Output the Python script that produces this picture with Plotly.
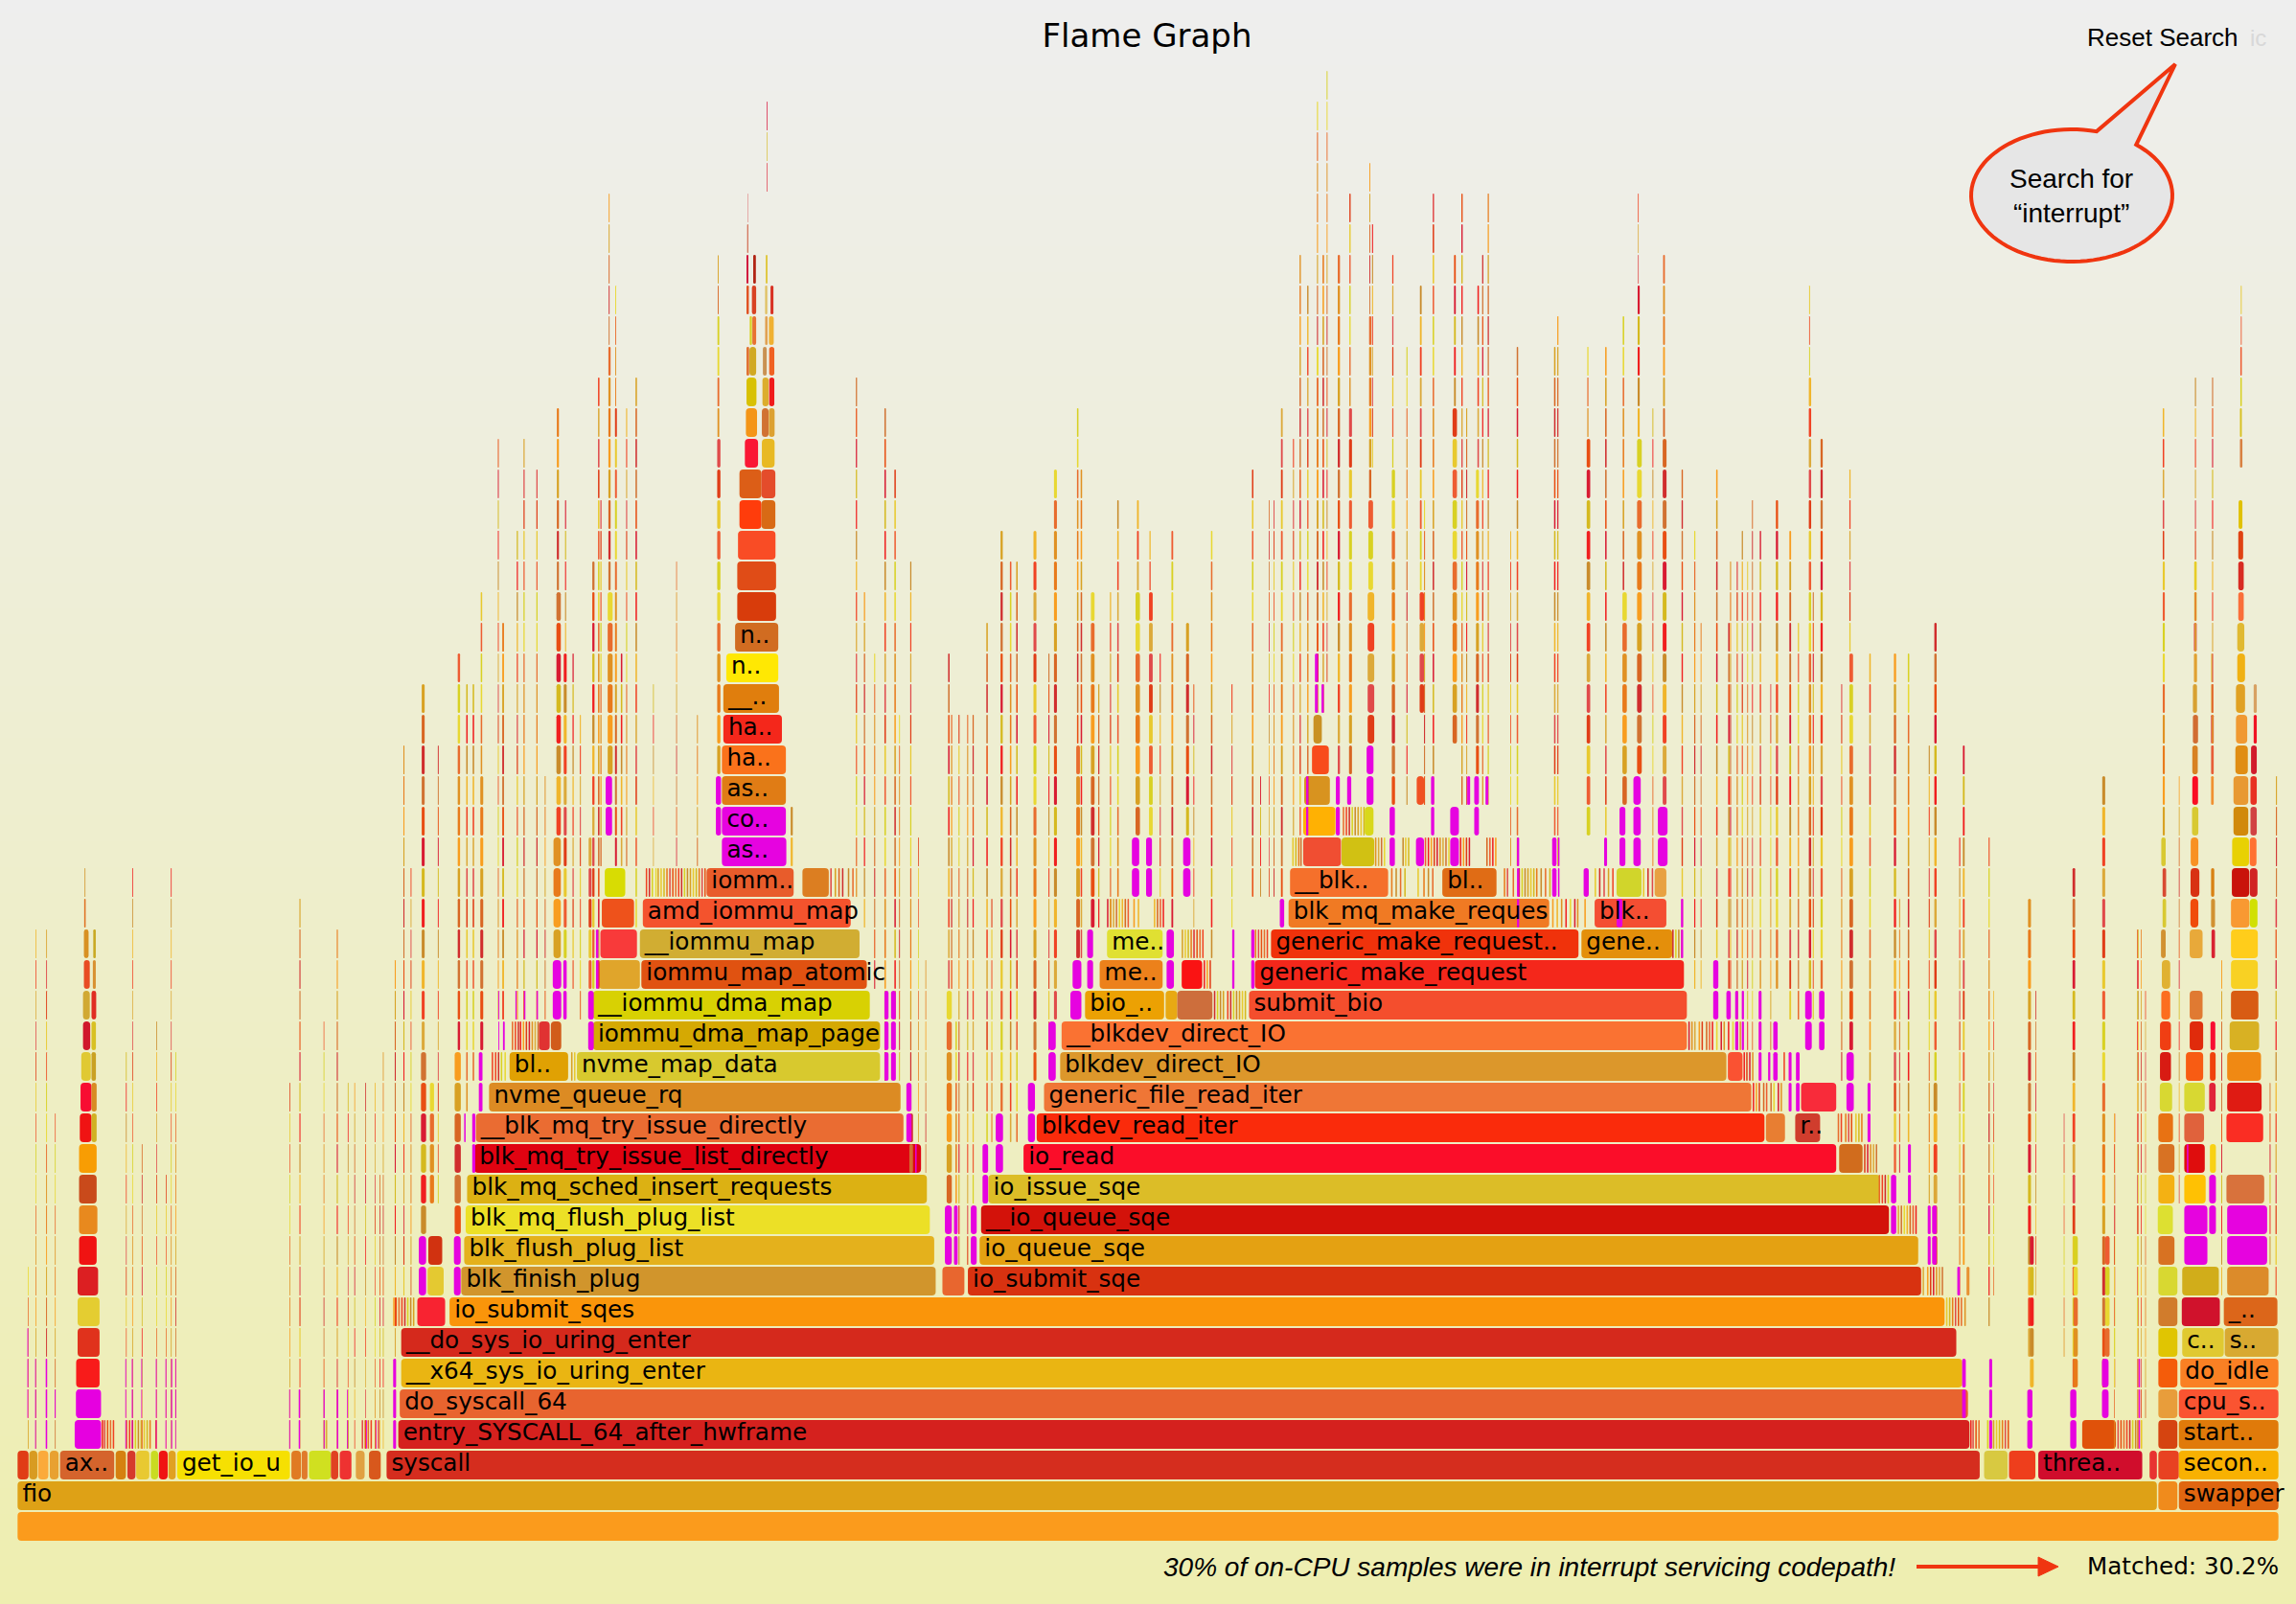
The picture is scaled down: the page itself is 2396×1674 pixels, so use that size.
import numpy as np
import plotly.graph_objects as go

# ---------------------------------------------------------------- page geometry
PAGE_W, PAGE_H = 2396, 1674
SAMPLE_SPAN = 1568            # x axis runs over this many sample units
ROW_PX = 32                   # height of one stack level
ROW0_PX = 1593                # vertical centre of the root frame


def page_x(px):
    return px * SAMPLE_SPAN / PAGE_W


def page_y(py):
    return (ROW0_PX - py) / ROW_PX


# ---------------------------------------------------------------- wide frames
frame_level = [
    0,
    1, 1, 1,
    2, 2, 2, 2, 2, 2, 2, 2, 2, 2, 2, 2, 2, 2, 2, 2, 2, 2, 2, 2, 2, 2, 2, 2, 2, 2,
    3, 3, 3, 3, 3,
    4, 4, 4, 4,
    5, 5, 5, 5,
    6, 6, 6, 6, 6,
    7, 7, 7, 7, 7, 7,
    8, 8, 8, 8, 8, 8, 8, 8, 8,
    9, 9, 9, 9, 9,
    10, 10, 10,
    11, 11, 11, 11,
    12, 12, 12, 12, 12,
    13, 13, 13, 13, 13, 13, 13,
    14, 14, 14, 14, 14, 14, 14,
    15, 15, 15, 15, 15, 15, 15, 15, 15, 15,
    16, 16, 16, 16, 16, 16, 16, 16, 16, 16,
    17, 17, 17, 17, 17, 17, 17, 17, 17, 17,
    18, 18, 18, 18, 18, 18, 18, 18, 18,
    19, 19, 19, 19, 19, 19, 19, 19, 19, 19, 19,
    20, 20, 20, 20, 20, 20, 20, 20, 20, 20, 20,
    21, 21, 21, 21, 21, 21, 21, 21, 21, 21, 21,
    22, 22, 22, 22, 22,
    23, 23, 23, 23, 23,
    24, 24, 24, 24, 24, 24,
    25, 25, 25, 25, 25,
    26, 26, 26, 26, 26,
    27, 27, 27, 27,
    28, 28, 28, 28,
    29, 29, 29,
    30, 30, 30,
    31, 31, 31,
    32, 32,
    33, 33, 33,
    34, 34,
    35, 35, 35,
    36, 36, 36, 36,
    37, 37, 37,
    38, 38, 38, 38,
    39, 39, 39, 39,
    40, 40, 40, 40,
    41, 41, 41,
    42, 43, 44, 45, 46,
    # idle-side stacks on the far right
    10,
    11, 11,
    12, 12,
    13, 13,
    14, 14,
    21, 21,
    22, 23, 24, 25, 26, 27,
]
frame_start = [
    12,
    12, 1474, 1488,
    12, 20, 26, 34, 41, 79, 87, 93, 103, 108.5, 115, 121, 199, 206, 211, 226, 232, 243, 252, 264, 1355, 1372, 1392, 1468, 1474, 1488,
    51, 272, 1422, 1474, 1488,
    52, 273, 1474, 1488,
    52, 274, 1474, 1489,
    53, 274, 1474, 1490.3, 1519.3,
    53, 285, 307, 1474, 1490, 1518.7,
    53, 292, 315, 643.6, 661, 1474, 1490.3, 1521, 1343,
    54, 292.5, 317, 669, 1474,
    54, 318, 670,
    54, 319, 675, 1474,
    54, 324, 699, 1256, 1474,
    54.5, 62.5, 325, 708, 1206, 1226, 1474,
    55, 62.5, 334, 713, 1230, 1475, 1491.7,
    55.5, 62.5, 348, 394, 724, 1180, 1475.1, 1492.8, 1509.2, 1521,
    56.7, 62.5, 368, 376.2, 405, 725, 1475.1, 1495.4, 1509.6, 1522.7,
    56.7, 62.5, 405, 741, 796, 804, 853, 1476, 1495.4, 1523.6,
    57.3, 63.4, 409, 438, 751, 807, 857, 1476.4, 1523.6,
    57.3, 63.7, 410, 437, 756, 868, 1080, 1475.8, 1495.4, 1510.3, 1523.6,
    57.5, 411, 439, 880, 1089, 1476.9, 1495.9, 1510, 1523.6, 1536.4, 1554,
    57.8, 413, 482.5, 548, 881, 985, 1104, 1130, 1476.9, 1496, 1510,
    890, 916.2, 1476, 1496.1, 1524.4,
    493, 890, 932, 1497, 1525.3,
    493, 890.7, 967.5, 1497.2, 1510, 1525.3,
    493, 896, 1497.2, 1510, 1526.6,
    494, 897, 1497.6, 1510, 1527,
    494, 1497.6, 1510, 1527,
    496, 1498.3, 1510, 1527.9,
    502, 1498.3, 1527.9,
    503.5, 1498.5, 1528.6,
    503.5, 1498.5, 1528.6,
    504, 1528.6,
    505, 520, 1528.8,
    505, 520,
    508.7, 520.3, 1529.7,
    509.4, 520.3, 525.1, 1529.7,
    509.8, 520.7, 525.3,
    509.8, 511.8, 521, 525.3,
    512, 513.8, 522.5, 525.1,
    509.8, 513.5, 522.5, 526.2,
    509.8, 514.4, 522.9,
    510.3, 510.5, 523.7, 523.7, 523.7,
    1473.6,
    1491.7, 1520.5,
    1491.7, 1509.2,
    1491.7, 1520.5,
    1508.7, 1521,
    1524.2, 1536.4,
    1536.4, 1536.9, 1536.9, 1537.3, 1539.1, 1539.1,
]
frame_end = [
    1556,
    1473, 1487, 1556,
    19.5, 25.5, 33, 40, 78, 86, 92.5, 102, 108, 114.5, 120, 198, 205.5, 210, 226, 231, 240, 249, 260, 1352, 1371, 1390, 1463, 1473, 1488, 1556,
    69, 1345, 1445, 1487, 1556,
    69, 1344, 1487, 1556,
    68, 1340, 1487, 1556,
    68, 1336, 1487, 1518.7, 1556,
    68, 304, 1328, 1487, 1516, 1555.3,
    67, 303, 639, 658.6, 1312, 1487, 1515.3, 1549.3, 1345,
    66, 302, 638, 1310, 1485,
    66.5, 635, 1290,
    66, 633, 1284, 1485,
    66, 629, 1254, 1272, 1485,
    62.5, 66, 617, 1205, 1219, 1243, 1484,
    62.5, 66, 615, 1196, 1254, 1483.4, 1505.7,
    62, 65.5, 388, 601, 1179, 1190, 1482.6, 1504.6, 1513.1, 1544.1,
    61.6, 65.5, 375.4, 383.3, 601, 1152, 1482.6, 1504.6, 1512.9, 1542.8,
    61.3, 65.7, 594, 795, 804, 828, 1152, 1482.1, 1504.2, 1542.3,
    61.3, 65.4, 437, 592, 794, 821, 1150, 1482.1, 1541.9,
    60.5, 65.4, 435, 587, 794, 1078, 1142, 1479, 1504.2, 1512.7, 1541.9,
    58.5, 433, 581, 1058, 1138, 1479.3, 1501.3, 1512.7, 1536.2, 1541.7, 1555,
    58.3, 427, 542, 566, 948, 1022, 1121, 1138, 1479.3, 1502, 1512.2,
    915.8, 938.5, 1479, 1501.3, 1535.9,
    536.7, 912, 938, 1501.3, 1535.4,
    536.7, 908.2, 972.5, 1501.1, 1511.8, 1535.4,
    536.7, 907.5, 1500.9, 1511.8, 1535.1,
    534, 902.7, 1501.1, 1511.8, 1534.7,
    532, 1500.4, 1511.5, 1533.2,
    531.5, 1500.4, 1511.2, 1533.2,
    531.5, 1500.2, 1532.7,
    530, 1500.2, 1532.3,
    530, 1500.2, 1532.3,
    529.6, 1531.9,
    520, 529.5, 1531.4,
    520, 529.5,
    517.7, 529, 1531.4,
    517, 524.9, 529, 1531,
    516.6, 524.9, 528.8,
    511.6, 516.4, 523.6, 528.8,
    513.5, 516.4, 524.2, 528.4,
    511.4, 516.4, 524, 528.2,
    511.1, 516.2, 524.2,
    510.9, 510.9, 524.2, 524.2, 524.2,
    1483.9,
    1506.3, 1546.3,
    1505.7, 1513.3,
    1505.2, 1545.6,
    1513.1, 1544.5,
    1536, 1541.7,
    1541, 1541.2, 1541.2, 1541.2, 1541.2, 1541.2,
]
frame_color = [
    "#fb9a1a",
    "#dea014", "#f08a1a", "#e0640e",
    "#e03a14", "#d89a20", "#fba93a", "#e8a030", "#d4622a", "#d4800e", "#d6382a", "#e8c830", "#c8dc20", "#f01010", "#e0a020", "#f6e000", "#e07820", "#e0782a", "#cfe01e", "#e04020", "#ee3030", "#e0a040", "#d8561a", "#d42a1c", "#d8c840", "#ee3c1a", "#cf0a2a", "#e83030", "#e84020", "#f8b000",
    "#e600e0", "#d41e1c", "#e05008", "#d4420e", "#e07808",
    "#e600e0", "#e8622e", "#e89c3a", "#fa5230",
    "#f81818", "#eab410", "#f45a08", "#fa7e22",
    "#e0301a", "#d4261a", "#e0c400", "#e0c830", "#d8a830",
    "#e4cc30", "#f82030", "#fa9408", "#d07a2a", "#cf0f2a", "#dc6418",
    "#dc1c20", "#e4c830", "#d0942a", "#e8642e", "#d8300e", "#d8d830", "#d0ac18", "#dc8a28", "#e89030",
    "#f01010", "#d0300e", "#e4b01a", "#e4a010", "#d87020",
    "#e8881c", "#ece024", "#d20f08",
    "#c84818", "#dcb010", "#dcbc24", "#f4b010",
    "#f89c00", "#e0000e", "#fb0a26", "#d06a1a", "#d87020",
    "#f01010", "#d0b020", "#ea6a30", "#fa2808", "#e87c30", "#cf3b2a", "#e87010",
    "#f80a30", "#d88a20", "#dc8a20", "#ef7434", "#f82838", "#d8d830", "#d8d830",
    "#e0c830", "#c8a020", "#e0a000", "#d8c82c", "#dc9628", "#fa5030", "#d81810", "#f85a10", "#f04008", "#f08810",
    "#cf1428", "#d8c020", "#e03030", "#d05a18", "#d4a800", "#fa7030", "#f03c10", "#e02808", "#f80a30", "#d8b020",
    "#d0a830", "#e02a20", "#d8d000", "#eca000", "#e8a810", "#cc6c3a", "#f44c2a", "#fc6c1c", "#e07830", "#d85a10",
    "#e84a20", "#d89030", "#e0a428", "#e0500e", "#ec8018", "#fa1010", "#f42418", "#e0b030", "#f8d020",
    "#d89020", "#c8a820", "#f83838", "#d0ac30", "#e0e030", "#f03008", "#e48e08", "#d09030", "#e8a838", "#d82030", "#ffcc18",
    "#e07020", "#ee5018", "#f4512a", "#f07820", "#f44c30", "#d8c830", "#f04a08", "#d09030", "#f89830", "#d0e000", "#e04048",
    "#d09020", "#d8dc00", "#e85a28", "#dc7c1e", "#f56e28", "#e06a12", "#d0d428", "#e8a040", "#d84830", "#d83010", "#d88010",
    "#f04c30", "#d0c010", "#d8c830", "#f89020", "#e8d000",
    "#e600e0", "#ffb000", "#d8d818", "#d8c830", "#d08808",
    "#e07a12", "#d8921c", "#f05020", "#fa0a20", "#f09030", "#e89830",
    "#fa7018", "#f84a18", "#d88020", "#e06040", "#e08c10",
    "#f42418", "#c89020", "#d06a30", "#d83030", "#f09830",
    "#e07c0a", "#d8a030", "#e0a040", "#e0a020",
    "#ffe800", "#e0a030", "#e0c040", "#f0b010",
    "#d06a1e", "#e04040", "#e0b830",
    "#d83a08", "#d8c030", "#fa6c38",
    "#e04a14", "#e8d020", "#d82820",
    "#f94a22", "#e04010",
    "#ff3a08", "#d86812", "#e0c000",
    "#dc5c14", "#e44a28",
    "#fa1432", "#e8b820", "#d88040",
    "#f49414", "#d07030", "#dca030", "#d8c020",
    "#d8c000", "#dcac2a", "#f01818",
    "#e07030", "#d0a820", "#c89050", "#f06020",
    "#d8d020", "#e87030", "#e0a050", "#f0b030",
    "#e05020", "#d84020", "#e0c060", "#d83020",
    "#d0103a", "#b02010", "#e0c840",
    "#c84020", "#e08080", "#e04050", "#d8c040", "#d81840",
    "#dde030",
    "#ffc000", "#d8703a",
    "#df0a0a", "#f8d010",
    "#e0603a", "#fa2a20",
    "#e02038", "#df1810",
    "#c81008", "#d02020",
    "#ff7030", "#d04040", "#e83020", "#d01828", "#f01020", "#d8a060",
]
frame_name = [
    "",
    "fio", "", "swapper",
    "", "", "", "", "ax..", "", "", "", "", "", "", "get_io_u", "", "", "", "", "", "", "", "syscall", "", "", "threa..", "", "", "secon..",
    "", "entry_SYSCALL_64_after_hwframe", "", "", "start..",
    "", "do_syscall_64", "", "cpu_s..",
    "", "__x64_sys_io_uring_enter", "", "do_idle",
    "", "__do_sys_io_uring_enter", "", "c..", "s..",
    "", "", "io_submit_sqes", "", "", "_..",
    "", "", "blk_finish_plug", "", "io_submit_sqe", "", "", "", "",
    "", "", "blk_flush_plug_list", "io_queue_sqe", "",
    "", "blk_mq_flush_plug_list", "__io_queue_sqe",
    "", "blk_mq_sched_insert_requests", "io_issue_sqe", "",
    "", "blk_mq_try_issue_list_directly", "io_read", "", "",
    "", "", "__blk_mq_try_issue_directly", "blkdev_read_iter", "", "r..", "",
    "", "", "nvme_queue_rq", "generic_file_read_iter", "", "", "",
    "", "", "bl..", "nvme_map_data", "blkdev_direct_IO", "", "", "", "", "",
    "", "", "", "", "iommu_dma_map_page", "__blkdev_direct_IO", "", "", "", "",
    "", "", "__iommu_dma_map", "bio_..", "", "", "submit_bio", "", "", "",
    "", "", "", "iommu_map_atomic", "me..", "", "generic_make_request", "", "",
    "", "", "", "__iommu_map", "me..", "generic_make_request..", "gene..", "", "", "", "",
    "", "", "amd_iommu_map", "blk_mq_make_reques", "blk..", "", "", "", "", "", "",
    "", "", "iomm..", "", "__blk..", "bl..", "", "", "", "", "",
    "", "", "", "", "",
    "co..", "", "", "", "",
    "as..", "", "", "", "", "",
    "ha..", "", "", "", "",
    "ha..", "", "", "", "",
    "__..", "", "", "",
    "n..", "", "", "",
    "n..", "", "",
    "", "", "",
    "", "", "",
    "", "",
    "", "", "",
    "", "",
    "", "", "",
    "", "", "", "",
    "", "", "",
    "", "", "", "",
    "", "", "", "",
    "", "", "", "",
    "", "", "",
    "", "", "", "", "",
    "",
    "", "",
    "", "",
    "", "",
    "", "",
    "", "",
    "", "", "", "", "", "",
]
# the "as.." frame on level 22 is magenta, kept with the other matched frames
matched_label_x = 493
matched_label_level = 22
matched_label = "as.."

# ---------------------------------------------------------------- narrow columns
# each entry: sample position, sample width, first level, last level
columns_far_left = [
    (19, .5, 3, 8), (24.3, .5, 3, 19), (31.5, .6, 3, 19), (37.5, .5, 3, 13),
    (86, .5, 3, 15), (90.3, .5, 3, 21), (96.8, .5, 3, 12), (106.7, .5, 3, 16),
    (113.3, .5, 3, 11), (116.7, .5, 3, 21), (119.8, .5, 3, 15),
    (197.8, .5, 3, 14), (204.5, .7, 3, 20), (221, .5, 3, 16), (230, .7, 3, 19),
    (237.5, .5, 3, 14), (242, .5, 3, 14), (249.5, .5, 3, 14), (256, .5, 3, 14),
    (259.3, .5, 3, 11), (261.5, .5, 3, 15), (269.6, .7, 3, 18),
]
columns_left_stack = [
    (275.5, .7, 8, 25), (280.4, .6, 8, 21), (287.5, 3.5, 10, 15), (288, 2, 16, 27),
    (293.6, 2.8, 11, 14), (299, .6, 11, 25), (310.5, 4.2, 10, 15), (312.6, 1.6, 16, 28),
    (318.4, 1, 14, 27), (322.8, 1, 15, 27), (328, 2, 16, 24), (328.3, 1, 25, 30),
    (340, .6, 17, 35), (343, 1.2, 17, 29), (352.9, .8, 17, 32), (357.5, .8, 17, 35),
    (366.3, .8, 17, 34), (372, .6, 17, 24), (378, 5, 19, 22), (380, 3, 23, 30),
    (380.3, 1.4, 31, 36), (385, 2, 19, 28), (385.9, .7, 29, 33), (391, .8, 18, 28),
    (396, .7, 17, 26), (402, 2, 18, 22), (404.5, 1.5, 18, 31), (408.4, 1, 18, 37),
    (410, .8, 22, 33), (415, 3.4, 25, 30), (415.5, 1.5, 31, 38), (415.7, .6, 39, 43),
    (420, 1.3, 22, 36), (420.2, .6, 37, 40), (424, 1, 22, 28), (427.6, .7, 22, 36),
    (434, 1, 20, 37), (446, .5, 22, 27), (461.8, .5, 22, 31), (476, .6, 22, 26),
    (489.8, 2.2, 25, 35), (490, 1.2, 36, 39), (490.2, .6, 40, 41),
    (540, 1.4, 22, 23), (584.5, .8, 21, 37), (590, .8, 20, 30), (597, .7, 18, 28),
    (604, 1, 15, 36), (610.8, 1, 17, 34), (614, .6, 15, 26), (621.6, .8, 15, 31),
    (621, 2.5, 12, 13), (627, .5, 13, 22), (632, .5, 12, 18),
]
columns_middle = [
    (646.5, 3.5, 11, 17), (647.5, 1, 18, 28), (649.5, .8, 18, 26), (652.5, 1, 11, 16),
    (654.6, .7, 9, 26), (660.5, .7, 9, 26), (664.2, .8, 10, 26), (673.6, 1, 13, 29),
    (677, .7, 13, 20), (683.3, 1.5, 14, 32), (689.7, 1, 13, 31), (694, 1, 13, 31),
    (705.8, 2, 15, 32), (716, .7, 16, 28), (719.8, 2, 17, 34), (735, 2.5, 19, 25),
    (735.5, 1, 26, 36), (738, 1, 19, 34), (745, 2.5, 20, 30), (750, .8, 20, 27),
    (758, .8, 20, 30), (763, 1, 21, 33), (775.5, 3, 23, 30), (776.5, 1.2, 31, 33),
    (784.7, 2.5, 23, 30), (785, .8, 31, 32), (792, .7, 21, 28), (800, 1.2, 20, 32),
    (810, 2, 23, 29), (815, .6, 19, 27), (827, 1, 19, 32), (841, .7, 20, 27),
    (855, 1, 21, 34), (860.6, .6, 21, 24), (866.5, .5, 21, 33), (869.8, .6, 21, 33),
    (874.8, 1.2, 21, 36), (883, .7, 23, 35),
]
columns_right_stack = [
    (887.5, .9, 23, 41), (892.7, .9, 24, 40), (899.2, 1.2, 27, 38), (899.4, .7, 39, 46),
    (903.2, 1, 27, 41), (906, .6, 28, 47), (913.6, 1.5, 25, 41), (921.3, 2, 25, 36),
    (921.5, .9, 37, 43), (934, 4.5, 26, 30), (934.5, 3.2, 31, 33), (935, 1.5, 34, 39),
    (935.2, .6, 40, 44), (937, .7, 35, 42), (950.5, 2.2, 24, 34), (950.8, .8, 35, 41),
    (960.5, .7, 24, 38), (969.5, 3, 27, 30), (969.7, 1.2, 31, 40), (972.5, .7, 24, 33),
    (978.4, 1, 24, 43), (992, 3, 26, 36), (993, 1.2, 37, 41), (998, .9, 24, 43),
    (1001.3, .7, 24, 36), (1008, 2, 25, 34), (1009, 1, 35, 40), (1012.2, .8, 24, 41),
    (1016, .8, 24, 43), (1031.4, .6, 22, 32), (1035.8, 1, 22, 38),
    (1061.3, 1, 22, 38), (1063.5, .8, 22, 39), (1083.6, 2.4, 23, 35), (1084, .8, 36, 38),
    (1096.2, 1, 23, 38), (1108, 3, 24, 30), (1108.2, 1, 31, 39), (1118, 3.2, 25, 35),
    (1118.4, 1.4, 36, 40), (1118.6, .5, 41, 43), (1128.5, .6, 22, 36), (1135.5, 2.6, 24, 35),
    (1135.8, 1.2, 36, 41),
]
columns_right_tail = [
    (1148.4, .9, 20, 34), (1157, .8, 18, 32), (1161.4, .6, 18, 29), (1172, 1, 19, 34),
    (1180.2, 1, 18, 29), (1181.5, .7, 18, 31), (1186, .8, 17, 31), (1189.5, .8, 18, 32),
    (1193.2, .6, 16, 31), (1196.5, .6, 16, 33), (1201.8, .9, 16, 32), (1209, .6, 16, 27),
    (1212.8, 1.5, 18, 33), (1222, 1.2, 17, 32), (1227.8, .8, 17, 29), (1235.3, 1.6, 18, 37),
    (1235.5, .6, 38, 40), (1238, .7, 17, 30), (1243.3, 1.5, 18, 35), (1257.4, .7, 15, 27),
    (1263, 2.5, 16, 28), (1263, .8, 29, 34), (1276.6, 1, 15, 28), (1293.4, 1.5, 12, 28),
    (1297, .6, 12, 20), (1302.9, 1, 13, 28), (1317.2, .7, 11, 25), (1321, 1.6, 11, 29),
    (1320.5, 2.5, 9, 14), (1338, .7, 8, 22), (1340.5, 1.2, 9, 25), (1358, .8, 7, 22),
    (1361.3, .5, 8, 17), (1385, 2, 6, 20), (1390, .5, 8, 17), (1409.4, .5, 6, 13),
    (1415.4, 1.8, 5, 21), (1435.7, 2, 5, 24), (1444, .5, 5, 13), (1460, .5, 4, 19),
    (1465, .5, 4, 17), (1477, 1.4, 23, 31), (1477, 1, 32, 36), (1499, .7, 29, 37), (1510.7, .7, 25, 37),
    (1443.7, .5, 3, 13), (1459.4, .5, 3, 19), (1462, .5, 3, 19), (1488, .5, 11, 24),
    (1517, .6, 8, 18), (1554, .8, 8, 19), (1554.3, .7, 21, 24), (1550, .6, 9, 14),
    (1530, 1, 37, 38), (1530.3, .6, 39, 40),
]
columns_levels_low = [
    (1386.3, 2.6, 5, 9), (1416, 3, 5, 9), (1437.7, 3, 6, 9),
]
# short runs of one-level frames: level and the sample position of every frame
strip_levels = [
    3, 3, 3, 3, 3, 3,
    7, 7,
    8, 10, 11, 12, 13, 14,
    15, 15, 16, 16,
    17, 18,
    19, 19, 19,
    20, 20,
    21, 21, 21, 21, 21,
    22, 22, 22, 22, 22,
    23,
]
strip_starts = [
    [69.5, 71, 73, 75, 77], [86, 88, 90, 92, 94, 96, 98, 100, 102, 106], [221, 222.5, 230, 237, 247, 249, 251, 253, 256, 258],
    [1345.5, 1347, 1349, 1351, 1365, 1367, 1369, 1371], [1357, 1359, 1361, 1363], [1446, 1448, 1450, 1452, 1454, 1456, 1458, 1460, 1462],
    [268.5, 270, 272, 274, 276, 278, 280, 282], [1329, 1331, 1333, 1335, 1337, 1339, 1341.5],
    [1313, 1316, 1318, 1320, 1322, 1324, 1326], [1296, 1298, 1300, 1302, 1304, 1306, 1308], [1283, 1285, 1287, 1289], [1273, 1275, 1277, 1279, 1281],
    [1255, 1257, 1260, 1262, 1264, 1267, 1269, 1271], [1197, 1199, 1201, 1204, 1206, 1209, 1211, 1214, 1216],
    [335.8, 338, 340, 342, 344.5, 390, 392], [1190.7, 1192.5, 1194.5, 1196.5, 1218, 1222], [349.5, 351.5, 353.5, 355, 357, 359, 361, 363, 365, 367], [1153, 1155, 1157, 1160, 1162, 1165, 1167, 1169, 1172, 1175, 1177, 1180, 1183, 1186, 1188],
    [829, 831, 833, 835, 838, 840, 842, 844, 846, 848, 850], [822, 824, 826],
    [807, 809, 811, 813, 815, 817, 819, 821], [857, 859, 861, 863, 865], [1142, 1144, 1146, 1148],
    [756, 758, 760, 762, 764, 766, 768, 770, 774, 777, 788, 790, 792, 794], [1060, 1063, 1066, 1069, 1072, 1075, 1077, 1082],
    [441, 443, 445, 447.5, 449, 451, 453, 455, 457, 459, 461, 463, 465, 467, 469, 471, 473, 475, 477, 479, 481], [567, 570, 572.5, 575, 579, 582], [950, 953, 956, 959, 968, 972, 975, 978], [1027, 1029, 1033, 1037, 1039, 1041, 1043, 1045, 1047, 1049, 1052, 1055, 1058], [1083, 1089, 1092, 1095, 1098, 1101, 1122, 1125, 1128],
    [882.5, 884.5, 886.5, 888], [939, 941, 943, 945], [957.7, 959.5, 961.5], [973, 975, 977, 979, 981, 983, 985, 987, 989], [997, 999, 1001, 1003, 1015, 1017, 1019, 1021],
    [917, 919, 921, 923, 925, 927, 929, 931],
]
STRIP_WIDTH = 1.0

# matched (interrupt) frames: first sample, last sample, first level, last level
matched_left = [
    (52, 68.7, 3, 4), (18.7, 19.3, 4, 6), (24, 24.5, 3, 5), (31.2, 32.2, 3, 5), (37.4, 38, 4, 4),
    (85.6, 86.2, 3, 5), (90, 90.6, 3, 5), (96.5, 97, 4, 5), (106.4, 107, 3, 5), (113, 113.6, 3, 5),
    (117, 117.6, 3, 5), (119.7, 120.2, 3, 5), (197.5, 198, 3, 4), (204, 205, 3, 4), (221, 221.7, 3, 4),
    (230, 231, 3, 4), (237, 237.6, 3, 4), (250, 250.6, 3, 3), (256.5, 257, 3, 3), (268.5, 270.5, 3, 5),
    (286, 291, 8, 9), (310, 314.6, 8, 9), (322.5, 324.6, 12, 13), (327, 329.5, 14, 15),
    (317, 318, 13, 13), (340.4, 341, 16, 17), (343.5, 344.7, 16, 16), (352, 352.8, 17, 17),
    (358, 358.8, 17, 17), (366.6, 367.4, 17, 17), (377.5, 383.3, 17, 18), (384.7, 387, 17, 18),
    (401.7, 405.5, 16, 17), (407, 408.7, 18, 19), (413.6, 418, 23, 24), (604, 606.8, 15, 17),
    (608.5, 611.8, 15, 17), (619, 622.5, 13, 14), (625, 626, 12, 12), (488.9, 492.4, 23, 24),
]
matched_middle = [
    (645.3, 650, 9, 10), (651.5, 654, 9, 10), (663, 667, 9, 10), (671, 674.8, 11, 12), (680, 685, 12, 13),
    (702, 706.8, 13, 14), (716, 721, 15, 16), (731, 738.5, 17, 17), (732.5, 738.5, 18, 18), (742.5, 746.5, 18, 19),
    (773, 778, 21, 22), (782.7, 786.7, 21, 22), (796.7, 801.7, 18, 19), (808, 813, 21, 22), (841.5, 843, 18, 19),
    (854.5, 856.7, 18, 19), (874, 877, 20, 20), (892, 893.5, 23, 24), (912.3, 915, 23, 24), (898, 900, 27, 28),
    (902.5, 904, 27, 27), (920, 922.8, 24, 24), (933.3, 938, 24, 25), (949, 952.6, 22, 23),
    (967, 972.5, 22, 22), (977.3, 979.5, 23, 24), (990.4, 996.3, 22, 23), (1002, 1004, 24, 24),
    (1006.8, 1010, 23, 24), (1014.5, 1016.5, 24, 24),
]
matched_right = [
    (1036, 1037.5, 20, 22), (1060, 1063, 21, 22), (1064, 1065, 21, 22), (1081.5, 1085, 21, 21),
    (1095.5, 1097.5, 22, 22), (1104, 1108, 20, 20), (1106, 1110, 22, 23), (1115.5, 1120.5, 22, 24),
    (1132.2, 1138.8, 22, 23), (1148, 1149.5, 19, 20), (1170, 1173.5, 17, 18), (1179, 1182, 17, 17),
    (1185, 1187, 16, 17), (1189.5, 1191, 16, 17), (1201, 1203, 15, 17), (1207.5, 1209, 15, 15),
    (1211, 1214, 15, 16), (1221.5, 1223.5, 14, 15), (1226.5, 1229, 14, 15), (1232.8, 1237.3, 16, 17),
    (1242.3, 1246, 16, 17), (1261, 1266, 14, 15), (1275.4, 1277.4, 13, 14), (1291.4, 1295, 10, 11),
    (1303, 1305, 11, 12), (1316.5, 1318.5, 9, 10), (1319.5, 1322.5, 9, 10), (1336.7, 1338.5, 8, 8),
    (1340, 1342.5, 4, 5), (1358.5, 1360.5, 3, 5), (1384.5, 1388, 3, 4), (1413.8, 1418, 3, 4),
    (1435.5, 1440, 4, 5), (1460.5, 1461.5, 3, 5), (1491.7, 1507.5, 9, 10), (1508.7, 1513.3, 10, 11),
    (1521, 1548.3, 9, 10), (1493.5, 1494.5, 12, 12),
]

# colours for the narrow frames, following the classic hot palette
hot_palette = [
    "#e03a14", "#d8a020", "#f0b428", "#e86a2a", "#d81830", "#e8c82c",
    "#d86420", "#f04020", "#e09020", "#d4b81c", "#ee5a30", "#cf2a2a",
    "#dca838", "#e87818", "#f01c1c", "#d8d020", "#d07030", "#e04848",
    "#f89c1c", "#c88a28", "#e8d830", "#e84c10",
]
MAGENTA = "#e600e0"


def hot(x, level):
    return hot_palette[(int(x * 10) * 31 + level * 17) % len(hot_palette)]


def solid(hex_colour):
    # 0.99 alpha keeps sub-pixel widths as drawn instead of snapped to a whole pixel
    r, g, b = (int(hex_colour[i:i + 2], 16) for i in (1, 3, 5))
    return f"rgba({r},{g},{b},0.99)"


# ---------------------------------------------------------------- assemble marks
assert len(frame_level) == len(frame_start) == len(frame_end) == len(frame_color) == len(frame_name), (
    len(frame_level), len(frame_start), len(frame_end), len(frame_color), len(frame_name))
assert len(strip_levels) == len(strip_starts)

bar_level = list(frame_level)
bar_base = list(frame_start)
bar_len = [e - s for s, e in zip(frame_start, frame_end)]
bar_color = [solid(c) for c in frame_color]

for group in (columns_far_left, columns_left_stack, columns_middle,
              columns_right_stack, columns_right_tail, columns_levels_low):
    for x, w, lo, hi in group:
        for level in range(lo, hi + 1):
            bar_level.append(level)
            bar_base.append(x)
            bar_len.append(w)
            bar_color.append(solid(hot(x, level)))

for level, starts in zip(strip_levels, strip_starts):
    for x in starts:
        bar_level.append(level)
        bar_base.append(x)
        bar_len.append(STRIP_WIDTH)
        bar_color.append(solid(hot(x, level)))

for group in (matched_left, matched_middle, matched_right):
    for x0, x1, lo, hi in group:
        for level in range(lo, hi + 1):
            bar_level.append(level)
            bar_base.append(x0)
            bar_len.append(x1 - x0)
            bar_color.append(solid(MAGENTA))

bar_level.append(matched_label_level)
bar_base.append(matched_label_x)
bar_len.append(44)
bar_color.append(solid(MAGENTA))

label_x = [s + 3.3 for s, n in zip(frame_start, frame_name) if n] + [matched_label_x + 3.3]
label_y = [l for l, n in zip(frame_level, frame_name) if n] + [matched_label_level]
label_text = [n for n in frame_name if n] + [matched_label]

fig = go.Figure()

# page background: pale grey at the top fading to pale yellow at the bottom
y_top, y_bottom = page_y(0), page_y(PAGE_H)
fig.add_trace(go.Heatmap(
    x=[0, SAMPLE_SPAN], y=[y_bottom, y_top], z=[[1, 1], [0, 0]],
    colorscale=[[0, "#eeeeee"], [1, "#eeeeb0"]], zsmooth="best",
    showscale=False, hoverinfo="skip",
))

fig.add_trace(go.Bar(
    orientation="h", y=bar_level, x=bar_len, base=bar_base, width=0.94,
    marker=dict(color=bar_color, line=dict(width=0), cornerradius=4),
    hoverinfo="skip", showlegend=False,
))

fig.add_trace(go.Scatter(
    x=label_x, y=label_y, text=label_text, mode="text", textposition="middle right",
    textfont=dict(family="DejaVu Sans", size=24.7, color="#000000"),
    hoverinfo="skip", showlegend=False,
))

# ---------------------------------------------------------------- speech bubble
CX, CY, RX, RY = 2162, 204, 105, 69
tail_left, tail_tip, tail_right = (2188, 137), (2270, 67), (2228, 152)
a0 = np.arctan2((tail_right[1] - CY) / RY, (tail_right[0] - CX) / RX)
a1 = np.arctan2((tail_left[1] - CY) / RY, (tail_left[0] - CX) / RX) + 2 * np.pi
angles = np.linspace(a0, a1, 90)
bubble = [(page_x(CX + RX * np.cos(t)), page_y(CY + RY * np.sin(t))) for t in angles]
bubble += [(page_x(tail_tip[0]), page_y(tail_tip[1]))]
bubble_path = "M " + " L ".join(f"{x:.3f},{y:.4f}" for x, y in bubble) + " Z"

arrow_y = 1635
arrow_head = (f"M {page_x(2127):.3f},{page_y(arrow_y - 10):.4f} "
              f"L {page_x(2148):.3f},{page_y(arrow_y):.4f} "
              f"L {page_x(2127):.3f},{page_y(arrow_y + 10):.4f} Z")

fig.update_layout(
    width=PAGE_W, height=PAGE_H, margin=dict(l=0, r=0, t=0, b=0),
    paper_bgcolor="#eeeeb0", plot_bgcolor="rgba(0,0,0,0)",
    barmode="overlay", showlegend=False,
    xaxis=dict(range=[0, SAMPLE_SPAN], visible=False, fixedrange=True),
    yaxis=dict(range=[y_bottom, y_top], visible=False, fixedrange=True),
    title=dict(text="Flame Graph", x=1197 / PAGE_W, xanchor="center",
               y=1 - 37 / PAGE_H, yanchor="middle",
               font=dict(family="DejaVu Sans", size=34, color="#000000")),
    shapes=[
        dict(type="path", path=bubble_path, xref="x", yref="y", fillcolor="#e6e6e6",
             line=dict(color="#f03510", width=4), layer="above"),
        dict(type="line", x0=page_x(2000), x1=page_x(2130), y0=page_y(arrow_y), y1=page_y(arrow_y),
             xref="x", yref="y", line=dict(color="#f03510", width=4)),
        dict(type="path", path=arrow_head, xref="x", yref="y", fillcolor="#f03510",
             line=dict(color="#f03510", width=1)),
    ],
    annotations=[
        dict(text="Reset Search", x=2338 / PAGE_W, y=1 - 39 / PAGE_H, xref="paper", yref="paper",
             xanchor="right", yanchor="middle", showarrow=False,
             font=dict(family="Liberation Sans", size=26, color="#000000")),
        dict(text="ic", x=2367 / PAGE_W, y=1 - 39 / PAGE_H, xref="paper", yref="paper",
             xanchor="right", yanchor="middle", showarrow=False,
             font=dict(family="Liberation Sans", size=24, color="#d8d8d8")),
        dict(text="Search for<br>“interrupt”", x=2161 / PAGE_W, y=1 - 205 / PAGE_H, xref="paper", yref="paper",
             xanchor="center", yanchor="middle", showarrow=False, align="center",
             font=dict(family="Liberation Sans", size=28, color="#000000")),
        dict(text="<i>30% of on-CPU samples were in interrupt servicing codepath!</i>",
             x=1980 / PAGE_W, y=1 - 1635 / PAGE_H, xref="paper", yref="paper",
             xanchor="right", yanchor="middle", showarrow=False,
             font=dict(family="Liberation Sans", size=28, color="#000000")),
        dict(text="Matched: 30.2%", x=2380 / PAGE_W, y=1 - 1634 / PAGE_H, xref="paper", yref="paper",
             xanchor="right", yanchor="middle", showarrow=False,
             font=dict(family="DejaVu Sans", size=24.6, color="#000000")),
    ],
)

fig.write_html("out.html")
